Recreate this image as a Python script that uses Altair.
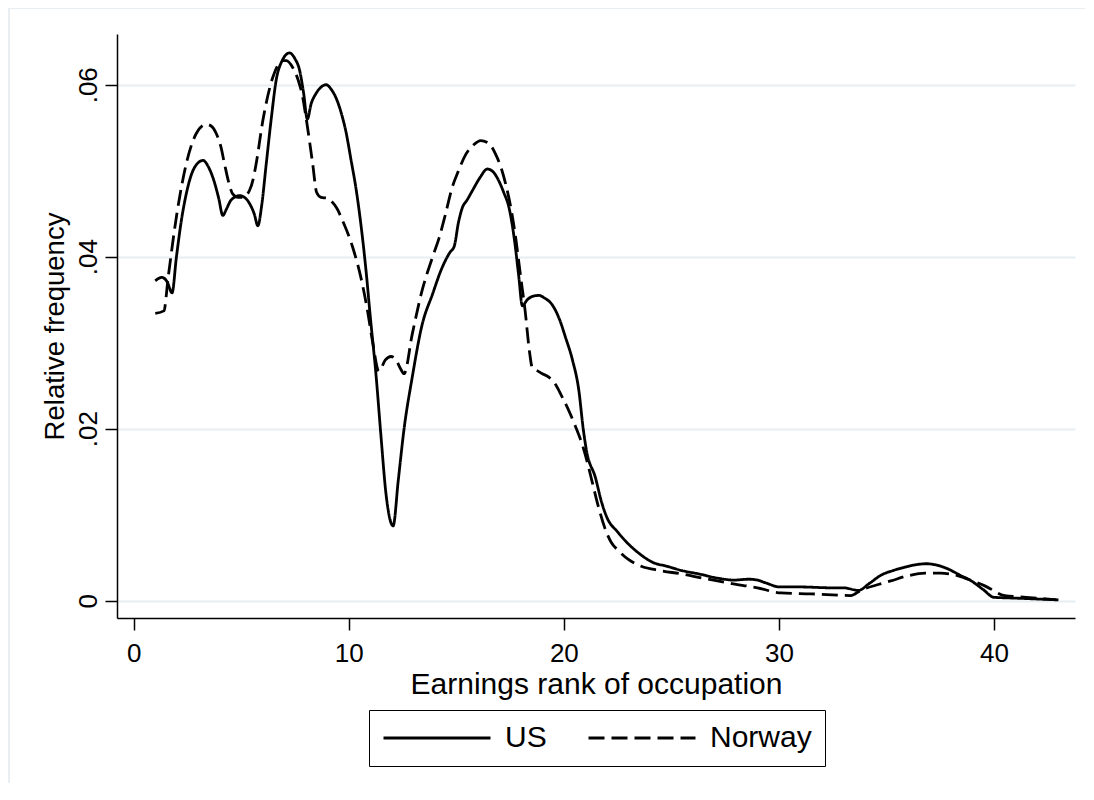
import altair as alt
import pandas as pd

# ---- data ----
series_names = ["US", "Norway"]

us_rank = [1.0, 1.3, 1.55, 1.78, 1.98, 2.2, 2.44, 2.83, 3.22, 3.5, 3.68, 3.95, 4.14, 4.3, 4.53,
           4.92, 5.2, 5.38, 5.6, 5.77, 5.95, 6.16, 6.4, 6.62, 6.9, 7.24, 7.5, 7.7, 7.9, 8.07,
           8.25, 8.48, 8.7, 8.94, 9.2, 9.4, 9.65, 9.87, 10.1, 10.33, 10.55, 10.8, 11.0, 11.26,
           11.5, 11.73, 12.06, 12.3, 12.57, 12.95, 13.4, 13.9, 14.3, 14.7, 14.9, 15.1, 15.28,
           15.5, 15.75, 16.1, 16.44, 16.7, 16.98, 17.2, 17.45, 17.7, 17.9, 18.07, 18.3, 18.55,
           18.84, 19.1, 19.46, 19.8, 20.08, 20.4, 20.7, 20.9, 21.05, 21.47, 21.75, 22.0, 22.5,
           23.0, 23.5, 24.1, 24.8, 25.5, 26.3, 27.2, 27.9, 28.6, 29.0, 29.36, 30.05, 31.0,
           32.45, 33.0, 33.7, 34.2, 34.77, 35.3, 35.85, 36.4, 36.86, 37.4, 37.86, 38.4, 38.95,
           39.5, 40.0, 41.0, 42.0, 43.0]
us_freq = [0.0372, 0.0376, 0.0371, 0.0358, 0.0399, 0.0440, 0.0473, 0.0504, 0.0512, 0.0503,
           0.0492, 0.0468, 0.0448, 0.0455, 0.0466, 0.0471, 0.0468, 0.0462, 0.0450, 0.0436,
           0.0460, 0.0508, 0.0562, 0.0605, 0.0628, 0.0637, 0.0630, 0.0618, 0.0590, 0.0560,
           0.0578, 0.0590, 0.0597, 0.0600, 0.0594, 0.0585, 0.0567, 0.0545, 0.0513, 0.0480,
           0.0440, 0.0384, 0.0330, 0.0264, 0.0190, 0.0124, 0.0087, 0.0140, 0.0200, 0.0260,
           0.0320, 0.0357, 0.0385, 0.0405, 0.0412, 0.0440, 0.0457, 0.0466, 0.0477, 0.0492,
           0.0502, 0.0499, 0.0488, 0.0475, 0.0457, 0.0420, 0.0378, 0.0343, 0.0350, 0.0354,
           0.0355, 0.0352, 0.0344, 0.0327, 0.0306, 0.0280, 0.0244, 0.0200, 0.0175, 0.0143,
           0.0115, 0.0097, 0.0080, 0.0066, 0.0055, 0.0045, 0.0040, 0.0035, 0.0031, 0.0026,
           0.0024, 0.0025, 0.0024, 0.0021, 0.0016, 0.0016, 0.0015, 0.0015, 0.0012, 0.0020,
           0.0030, 0.0035, 0.0039, 0.0042, 0.0043, 0.0041, 0.0037, 0.0030, 0.0023, 0.0013,
           0.0004, 0.0003, 0.0002, 0.0001]

no_rank = [1.0, 1.4, 1.6, 1.98, 2.44, 2.9, 3.37, 3.6, 3.84, 4.05, 4.22, 4.4, 4.6, 4.85, 5.07,
           5.38, 5.55, 5.69, 6.0, 6.47, 6.93, 7.1, 7.39, 7.65, 7.86, 8.01, 8.32, 8.5, 8.71, 9.0,
           9.17, 9.45, 9.71, 10.18, 10.56, 10.85, 11.1, 11.4, 11.7, 11.96, 12.2, 12.4, 12.57,
           12.95, 13.4, 13.9, 14.2, 14.5, 14.8, 15.1, 15.44, 15.8, 16.13, 16.5, 16.83, 17.1,
           17.3, 17.55, 17.76, 18.0, 18.2, 18.4, 18.53, 18.8, 19.0, 19.3, 19.6, 19.9, 20.23,
           20.55, 20.85, 21.1, 21.3, 21.6, 21.9, 22.2, 22.55, 23.0, 23.6, 24.5, 25.5, 26.5,
           27.8, 29.0, 30.1, 31.5, 33.35, 33.8, 34.5, 35.2, 36.0, 36.8, 37.5, 38.0, 38.8, 39.6,
           40.5, 41.5, 42.9]
no_freq = [0.0334, 0.0337, 0.0376, 0.0446, 0.0508, 0.0543, 0.0554, 0.0552, 0.0543, 0.0528,
           0.0508, 0.0488, 0.0473, 0.0469, 0.0469, 0.0477, 0.0490, 0.0508, 0.0558, 0.0609,
           0.0628, 0.0628, 0.0620, 0.0605, 0.0585, 0.0562, 0.0508, 0.0475, 0.0469, 0.0468,
           0.0465, 0.0456, 0.0442, 0.0411, 0.0376, 0.0340, 0.0302, 0.0267, 0.0280, 0.0284,
           0.0280, 0.0270, 0.0264, 0.0310, 0.0360, 0.0400, 0.0422, 0.0450, 0.0480, 0.0500,
           0.0519, 0.0530, 0.0535, 0.0532, 0.0519, 0.0502, 0.0484, 0.0455, 0.0422, 0.0375,
           0.0337, 0.0290, 0.0271, 0.0267, 0.0264, 0.0260, 0.0252, 0.0238, 0.0221, 0.0202,
           0.0182, 0.0160, 0.0140, 0.0110, 0.0085, 0.0068, 0.0058, 0.0048, 0.0040, 0.0035,
           0.0031, 0.0026, 0.0020, 0.0015, 0.0009, 0.0008, 0.0006, 0.0012, 0.0018, 0.0023,
           0.0029, 0.0032, 0.0032, 0.0031, 0.0025, 0.0017, 0.0006, 0.0004, 0.0001]

x_ticks = [0, 10, 20, 30, 40]
y_ticks = [0, 0.02, 0.04, 0.06]

df = pd.concat([
    pd.DataFrame({"rank": us_rank, "freq": us_freq, "series": series_names[0]}),
    pd.DataFrame({"rank": no_rank, "freq": no_freq, "series": series_names[1]}),
], ignore_index=True)

FONT = "Liberation Sans"
W, H = 958, 584

lines = alt.Chart(df).mark_line(color="black", strokeWidth=2.8, interpolate="monotone").encode(
    x=alt.X("rank:Q",
            scale=alt.Scale(domain=[-0.78, 43.77], nice=False, zero=False),
            axis=alt.Axis(values=x_ticks, title="Earnings rank of occupation", grid=False,
                          labelBaseline="alphabetic", labelPadding=31,
                          titleBaseline="alphabetic", titleX=W / 2, titleY=75,
                          titleAlign="center", titleFontSize=30)),
    y=alt.Y("freq:Q",
            scale=alt.Scale(domain=[-0.00201, 0.0659], nice=False, zero=False),
            axis=alt.Axis(values=y_ticks, title="Relative frequency", grid=True,
                          gridColor="#e6eef1", gridWidth=2,
                          labelExpr="datum.value == 0 ? '0' : replace(format(datum.value, '.2f'), '0.', '.')",
                          labelAngle=270, labelAlign="center", labelBaseline="alphabetic",
                          labelPadding=9,
                          titleAngle=270, titleAlign="center", titleBaseline="alphabetic",
                          titleX=-54, titleY=H / 2, titleFontSize=27.5)),
    strokeDash=alt.StrokeDash("series:N",
                              scale=alt.Scale(domain=series_names, range=[[1, 0], [16, 7]]),
                              legend=alt.Legend(title=None, orient="none", legendX=252, legendY=676,
                                                direction="horizontal", symbolType="stroke",
                                                symbolSize=11449, symbolStrokeWidth=2.8,
                                                symbolStrokeColor="black",
                                                labelFont=FONT, labelFontSize=30, labelColor="black",
                                                labelOffset=13, columnPadding=40, padding=13,
                                                strokeColor="black", clipHeight=30)),
)

border_df = pd.DataFrame({"k": [0]})
top_border = alt.Chart(border_df).mark_rule(color="#e8eef1", strokeWidth=2).encode(
    x=alt.value(-109), x2=alt.value(W + 10), y=alt.value(-26))
left_border = alt.Chart(border_df).mark_rule(color="#e8eef1", strokeWidth=2).encode(
    x=alt.value(-108), y=alt.value(-26), y2=alt.value(H + 165))

chart = alt.layer(top_border, left_border, lines).properties(
    width=W, height=H,
    autosize=alt.AutoSizeParams(type="none"),
    padding={"left": 109, "top": 26, "right": 10, "bottom": 165},
    background="white",
).configure_view(stroke=None).configure_axis(
    domainColor="black", domainWidth=1.5, tickColor="black", tickWidth=1.5, tickSize=12,
    labelFont=FONT, labelFontSize=26, labelColor="black", labelFlush=False, labelOverlap=False,
    titleFont=FONT, titleFontWeight="normal", titleColor="black",
)

chart.save("out.html", embed_options={"renderer": "svg", "actions": False})
